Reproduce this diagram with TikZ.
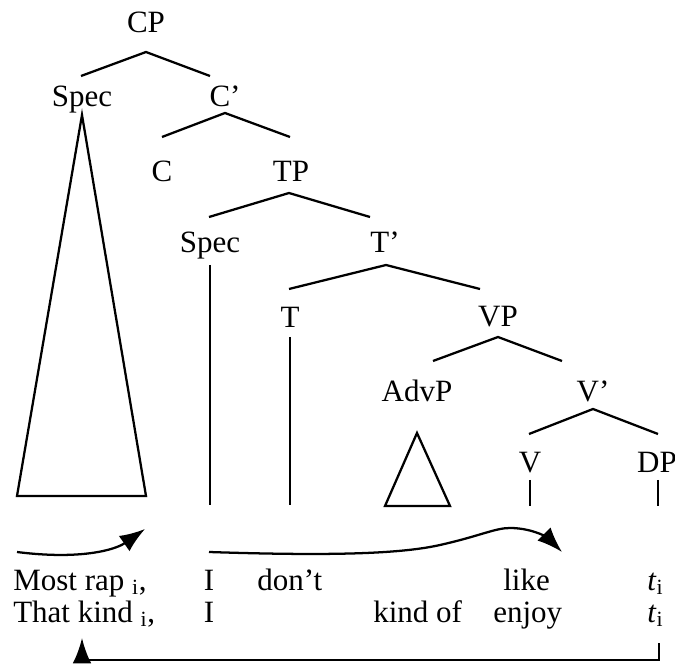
\documentclass[tikz,border=0pt]{standalone}
\usepackage{fontspec}
\setmainfont{Liberation Serif}
\usetikzlibrary{arrows.meta}
\tikzset{
  lbl/.style={inner sep=0pt, anchor=base, font=\fontsize{23.25pt}{26pt}\selectfont},
  wrd/.style={inner sep=0pt, anchor=base west, font=\fontsize{23.25pt}{26pt}\selectfont},
  edge/.style={line width=1.7pt},
  mv/.style={line width=1.7pt, -{Latex[length=19pt,width=14pt]}},
}
\begin{document}
\begin{tikzpicture}[x=0.75pt,y=-0.75pt]
\useasboundingbox (0,0) rectangle (675,666);
% tree labels
\node[lbl] (CP) at (146,33) {CP};
\node[lbl] (SpecC) at (82,107) {Spec};
\node[lbl] (Cbar) at (225,107) {C’};
\node[lbl] (C) at (162,182) {C};
\node[lbl] (TP) at (291,182) {TP};
\node[lbl] (SpecT) at (210,253) {Spec};
\node[lbl] (Tbar) at (385,253) {T’};
\node[lbl] (T) at (290,328) {T};
\node[lbl] (VP) at (498,327) {VP};
\node[lbl] (AdvP) at (417,402) {AdvP};
\node[lbl] (Vbar) at (593,402) {V’};
\node[lbl] (V) at (530,473) {V};
\node[lbl] (DP) at (657,473) {DP};
% branch points
\coordinate (cpA) at (146,52); \coordinate (cpL) at (81,76); \coordinate (cpR) at (210,76);
\coordinate (cbA) at (225,113); \coordinate (cbL) at (162,137); \coordinate (cbR) at (290,137);
\coordinate (tpA) at (289,193); \coordinate (tpL) at (209,217); \coordinate (tpR) at (370,217);
\coordinate (tbA) at (386,265); \coordinate (tbL) at (289,289); \coordinate (tbR) at (480,289);
\coordinate (vpA) at (498,337); \coordinate (vpL) at (433,361); \coordinate (vpR) at (562,361);
\coordinate (vbA) at (593,409); \coordinate (vbL) at (529,434); \coordinate (vbR) at (658,434);
\draw[edge] (cpL) -- (cpA) -- (cpR);
\draw[edge] (cbL) -- (cbA) -- (cbR);
\draw[edge] (tpL) -- (tpA) -- (tpR);
\draw[edge] (tbL) -- (tbA) -- (tbR);
\draw[edge] (vpL) -- (vpA) -- (vpR);
\draw[edge] (vbL) -- (vbA) -- (vbR);
% triangles
\coordinate (bigA) at (82,115); \coordinate (bigL) at (17,496); \coordinate (bigR) at (146,496);
\draw[edge] (bigA) -- (bigL) -- (bigR) -- cycle;
\coordinate (smA) at (417,433); \coordinate (smL) at (385,506); \coordinate (smR) at (450,506);
\draw[edge] (smA) -- (smL) -- (smR) -- cycle;
% vertical lines
\coordinate (specTop) at (210,265); \coordinate (specBot) at (210,505);
\coordinate (tTop) at (290,337); \coordinate (tBot) at (290,505);
\coordinate (vTop) at (530,480); \coordinate (vBot) at (530,506);
\coordinate (dTop) at (658,480); \coordinate (dBot) at (658,506);
\draw[edge] (specTop) -- (specBot);
\draw[edge] (tTop) -- (tBot);
\draw[edge] (vTop) -- (vBot);
\draw[edge] (dTop) -- (dBot);
% words
\node[wrd] (w1) at (13,590) {Most rap \textsubscript{i},};
\node[lbl] (w2) at (209,590) {I};
\node[wrd] (w3) at (257,590) {don’t};
\node[wrd] (w4) at (503,590) {like};
\node[wrd] (w5) at (647,590) {\textit{t}\textsubscript{i}};
\node[wrd] (x1) at (13,622) {That kind \textsubscript{i},};
\node[lbl] (x2) at (209,622) {I};
\node[wrd] (x3) at (373,622) {kind of};
\node[wrd] (x4) at (493,622) {enjoy};
\node[wrd] (x5) at (647,622) {\textit{t}\textsubscript{i}};
% movement arrows
\coordinate (m1s) at (17,552); \coordinate (m1e) at (145,529);
\draw[mv] (m1s) .. controls (80,560) and (115,550) .. (m1e);
\coordinate (m2s) at (209,552); \coordinate (m2e) at (562,552);
\draw[mv] (m2s) .. controls (330,556) and (400,554) .. (440,545)
  .. controls (480,536) and (495,528) .. (510,528)
  .. controls (535,528) and (550,540) .. (m2e);
\coordinate (m3s) at (659,643); \coordinate (m3c1) at (659,660);
\coordinate (m3c2) at (82,660); \coordinate (m3e) at (82,638);
\draw[mv] (m3s) -- (m3c1) -- (m3c2) -- (m3e);
\end{tikzpicture}
\end{document}
